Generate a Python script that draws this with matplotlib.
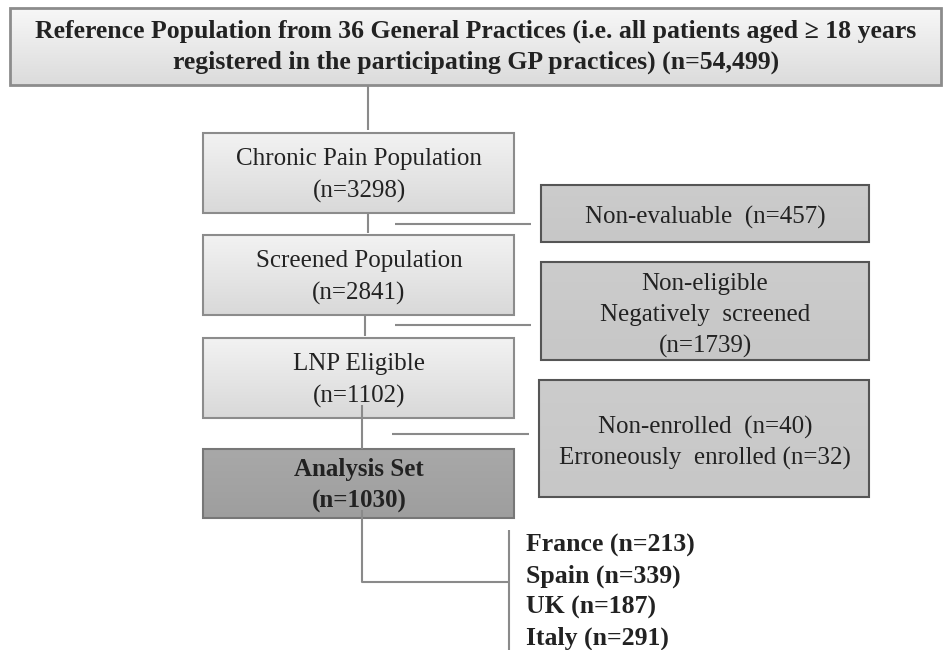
import matplotlib.pyplot as plt
import numpy as np
from matplotlib.patches import Rectangle

# flowchart text
top_text = ["Reference Population from 36 General Practices (i.e. all patients aged \u2265 18 years",
            "registered in the participating GP practices) (n=54,499)"]
main_labels = ["Chronic Pain Population", "Screened Population", "LNP Eligible", "Analysis Set"]
main_n = [3298, 2841, 1102, 1030]
side_text = [["Non-evaluable  (n=457)"],
             ["Non-eligible", "Negatively  screened", "(n=1739)"],
             ["Non-enrolled  (n=40)", "Erroneously  enrolled (n=32)"]]
countries = ["France", "Spain", "UK", "Italy"]
country_n = [213, 339, 187, 291]

plt.rcParams["font.family"] = ["Liberation Serif", "DejaVu Serif"]
txt_col = "#222222"
line_col = "#8a8a8a"

fig = plt.figure(figsize=(9.5, 6.5), dpi=100)
ax = fig.add_axes([0, 0, 1, 1])
ax.set_xlim(0, 950)
ax.set_ylim(650, 0)
ax.axis("off")


def grad_box(x0, y0, x1, y1, c_top, c_bot, edge, lw=1.5):
    grad = np.linspace(0, 1, 100)[:, None]
    ct = np.array(c_top)
    cb = np.array(c_bot)
    img = ct[None, None, :] * (1 - grad[:, :, None]) + cb[None, None, :] * grad[:, :, None]
    im = ax.imshow(img, extent=(x0, x1, y1, y0), aspect="auto", zorder=1)
    r = Rectangle((x0, y0), x1 - x0, y1 - y0, fc="none", ec=edge, lw=lw, zorder=2)
    ax.add_patch(r)
    im.set_clip_path(r)


def line(xs, ys):
    ax.plot(xs, ys, color=line_col, lw=1.5, zorder=3, solid_capstyle="butt")


# top box
grad_box(10, 8, 941, 85, (0.97, 0.97, 0.97), (0.86, 0.86, 0.86), "#8c8c8c", 2)
ax.text(476, 31, top_text[0], ha="center", va="center", fontsize=18.5, fontweight="bold", color=txt_col, zorder=4)
ax.text(476, 62, top_text[1], ha="center", va="center", fontsize=18.5, fontweight="bold", color=txt_col, zorder=4)

# main boxes
box_y = [(133, 213), (235, 315), (338, 418), (449, 518)]
for i, (lab, n) in enumerate(zip(main_labels, main_n)):
    y0, y1 = box_y[i]
    if i < 3:
        grad_box(203, y0, 514, y1, (0.95, 0.95, 0.95), (0.85, 0.85, 0.85), "#8c8c8c")
        fw = "normal"
    else:
        grad_box(203, y0, 514, y1, (0.66, 0.66, 0.66), (0.62, 0.62, 0.62), "#777777")
        fw = "bold"
    ym = (y0 + y1) / 2
    ax.text(359, ym - 14, lab, ha="center", va="center", fontsize=18, fontweight=fw, color=txt_col, zorder=4)
    ax.text(359, ym + 18, "(n=%d)" % n, ha="center", va="center", fontsize=18, fontweight=fw, color=txt_col, zorder=4)

# side boxes
side_y = [(185, 242), (262, 360), (380, 497)]
for i, lines in enumerate(side_text):
    y0, y1 = side_y[i]
    x0 = 541 if i < 2 else 539
    grad_box(x0, y0, 869, y1, (0.80, 0.80, 0.80), (0.78, 0.78, 0.78), "#555555")
    ym = (y0 + y1) / 2 + 4
    k = len(lines)
    for j, s in enumerate(lines):
        ax.text(705, ym + (j - (k - 1) / 2) * 31, s, ha="center", va="center", fontsize=18, color=txt_col, zorder=4)

# connectors
line([368, 368], [85, 130])
line([368, 368], [213, 233])
line([365, 365], [315, 336])
line([362, 362], [405, 449])
line([395, 531], [224, 224])
line([395, 531], [325, 325])
line([392, 529], [434, 434])
line([362, 362, 509], [510, 582, 582])
line([509, 509], [530, 650])

# countries
for i, (c, n) in enumerate(zip(countries, country_n)):
    ax.text(526, 545 + i * 31, "%s (n=%d)" % (c, n), ha="left", va="center", fontsize=18.5,
            fontweight="bold", color=txt_col, zorder=4)

fig.savefig("out.png", dpi=100, facecolor="white")
